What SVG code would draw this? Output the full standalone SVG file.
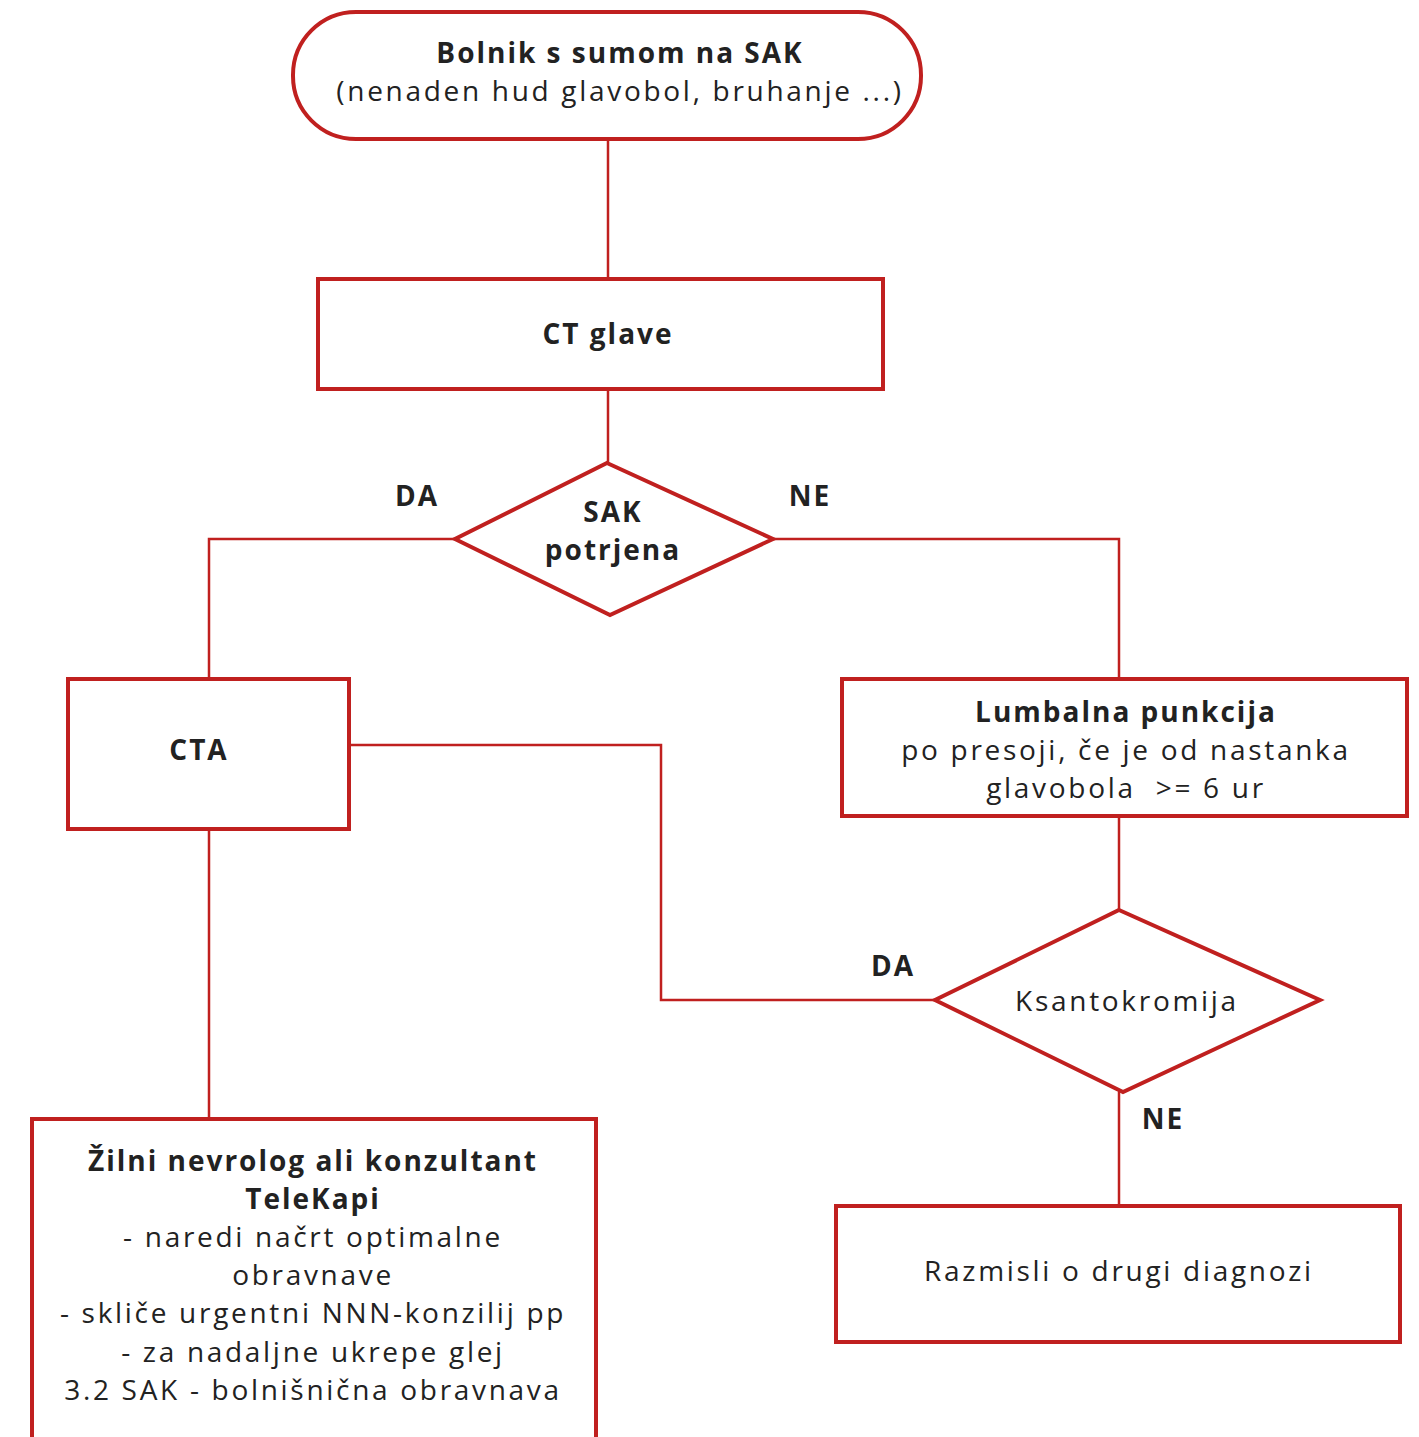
<svg xmlns="http://www.w3.org/2000/svg" width="1419" height="1437" viewBox="0 0 1419 1437">
<style>
.n{fill:#fff;stroke:#c0201f;stroke-width:4}
.c{fill:none;stroke:#c0201f;stroke-width:2.5}
text{font-family:"Open Sans","Noto Sans",sans-serif;font-size:28px;fill:#222;text-anchor:middle;letter-spacing:2.7px}
.b{font-weight:bold;letter-spacing:2px}
</style>
<rect width="1419" height="1437" fill="#fff"/>
<g id="connectors">
<path class="c" d="M608 139V279"/>
<path class="c" d="M608 389V463"/>
<path class="c" d="M455 539H209V679"/>
<path class="c" d="M773 539H1119V679"/>
<path class="c" d="M349 745H661V1000H935"/>
<path class="c" d="M1119 816V910"/>
<path class="c" d="M1119 1092V1206"/>
<path class="c" d="M209 829V1119"/>
</g>
<g id="labels">
<text class="b" x="417" y="506">DA</text>
<text class="b" x="810" y="506">NE</text>
<text class="b" x="893" y="976">DA</text>
<text class="b" x="1163" y="1129">NE</text>
</g>
<g id="start">
<rect class="n" x="293" y="12" width="628" height="127" rx="63"/>
<text class="b" x="620" y="63">Bolnik s sumom na SAK</text>
<text x="620" y="101">(nenaden hud glavobol, bruhanje ...)</text>
</g>
<g id="ct">
<rect class="n" x="318" y="279" width="565" height="110"/>
<text class="b" x="608" y="344">CT glave</text>
</g>
<g id="sak">
<path class="n" d="M607 463L773 539L610 615L455 539Z"/>
<text class="b" x="613" y="522">SAK</text>
<text class="b" x="613" y="560">potrjena</text>
</g>
<g id="cta">
<rect class="n" x="68" y="679" width="281" height="150"/>
<text class="b" x="199" y="760">CTA</text>
</g>
<g id="lumbalna">
<rect class="n" x="842" y="679" width="565" height="137"/>
<text class="b" x="1126" y="722">Lumbalna punkcija</text>
<text x="1126" y="760">po presoji, če je od nastanka</text>
<text x="1126" y="798" xml:space="preserve">glavobola  &gt;= 6 ur</text>
</g>
<g id="ksanto">
<path class="n" d="M1119 910L1320 1000L1123 1092L935 1000Z"/>
<text x="1127" y="1011">Ksantokromija</text>
</g>
<g id="razmisli">
<rect class="n" x="836" y="1206" width="564" height="136"/>
<text x="1119" y="1281">Razmisli o drugi diagnozi</text>
</g>
<g id="zilni">
<rect class="n" x="32" y="1119" width="564" height="330"/>
<text class="b" x="313" y="1171">Žilni nevrolog ali konzultant</text>
<text class="b" x="313" y="1209">TeleKapi</text>
<text x="313" y="1247">- naredi načrt optimalne</text>
<text x="313" y="1285">obravnave</text>
<text x="313" y="1323">- skliče urgentni NNN-konzilij pp</text>
<text x="313" y="1362">- za nadaljne ukrepe glej</text>
<text x="313" y="1400">3.2 SAK - bolnišnična obravnava</text>
</g>
</svg>
